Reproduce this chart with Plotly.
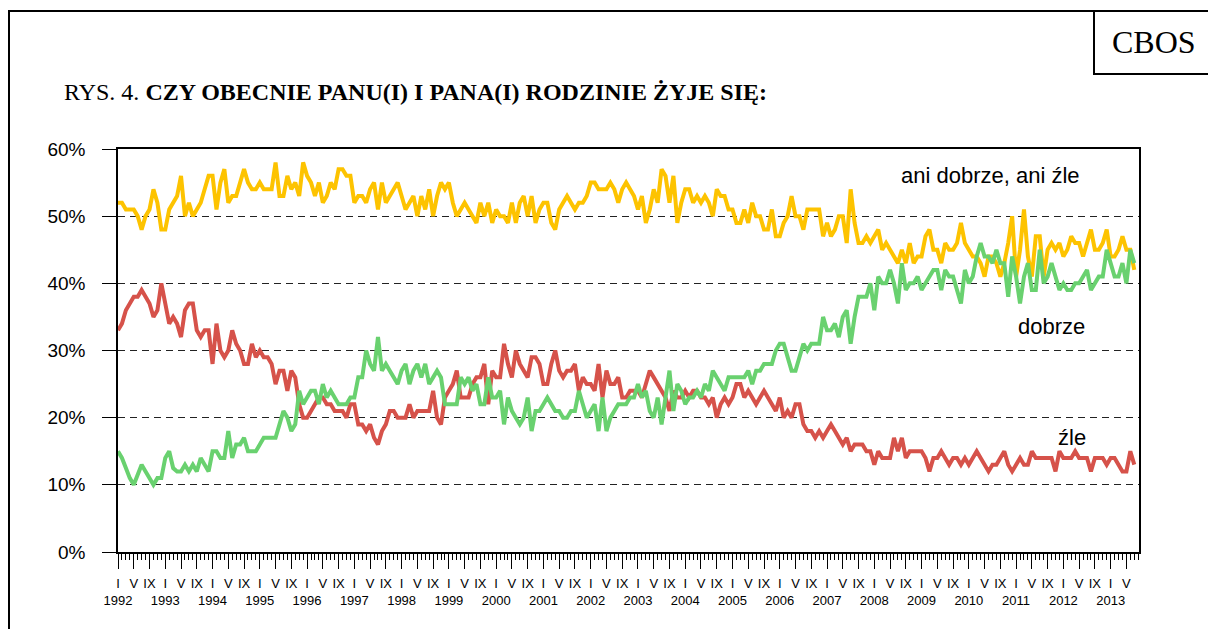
import plotly.graph_objects as go

# ---- data (monthly, Jan 1992 - Jul 2013), values in % ----
years = list(range(1992, 2014))
month_roman = ["I", "V", "IX"]

ani_dobrze_ani_zle = [
    52, 52, 51, 51, 51, 50, 48, 50, 51, 54, 52, 48,   # 1992
    48, 51, 52, 53, 56, 50, 52, 50, 51, 52, 54, 56,   # 1993
    56, 51, 55, 57, 52, 53, 53, 55, 57, 55, 54, 54,   # 1994
    55, 54, 54, 54, 58, 53, 53, 56, 54, 55, 53, 58,   # 1995
    56, 55, 53, 55, 52, 53, 55, 54, 57, 57, 56, 56,   # 1996
    52, 53, 53, 52, 54, 55, 51, 55, 52, 53, 54, 55,   # 1997
    53, 51, 52, 53, 50, 53, 51, 54, 50, 53, 55, 54,   # 1998
    55, 52, 50, 51, 52, 51, 50, 49, 52, 50, 52, 49,   # 1999
    51, 50, 50, 49, 52, 49, 52, 53, 50, 53, 49, 51,   # 2000
    52, 52, 49, 48, 51, 52, 53, 52, 51, 52, 52, 53,   # 2001
    55, 55, 54, 54, 54, 55, 54, 52, 54, 55, 54, 53,   # 2002
    51, 53, 49, 51, 54, 52, 57, 56, 52, 56, 49, 52,   # 2003
    54, 54, 52, 53, 52, 53, 52, 50, 54, 53, 53, 51,   # 2004
    51, 49, 49, 51, 49, 52, 50, 50, 48, 48, 51, 47,   # 2005
    47, 49, 50, 53, 50, 50, 48, 51, 51, 51, 51, 47,   # 2006
    49, 47, 48, 50, 50, 46, 54, 49, 46, 46, 47, 46,   # 2007
    47, 48, 45, 46, 45, 44, 43, 45, 43, 46, 43, 44,   # 2008
    44, 47, 48, 45, 45, 43, 46, 45, 45, 46, 49, 46,   # 2009
    45, 44, 44, 43, 41, 44, 44, 43, 41, 43, 46, 50,   # 2010
    41, 45, 51, 44, 41, 47, 47, 41, 45, 46, 45, 46,   # 2011
    44, 45, 47, 46, 46, 44, 46, 48, 45, 45, 46, 48,   # 2012
    44, 44, 45, 47, 45, 45, 42,                       # 2013
]

dobrze = [
    15, 14, 12.5, 11, 10, 11.5, 13, 12, 11, 10, 11, 11,  # 1992
    14, 15, 12.5, 12, 12, 13, 12, 13, 12, 14, 13, 12,    # 1993
    15, 15, 14, 14, 18, 14, 16, 16, 17, 15, 15, 15,      # 1994
    16, 17, 17, 17, 17, 19, 21, 20, 18, 19, 24, 22,      # 1995
    23, 24, 24, 22, 25, 23, 24, 23, 22, 22, 22, 23,      # 1996
    23, 26, 26, 30, 28, 27, 32, 27, 28, 27, 26, 25,      # 1997
    27, 28, 25, 27, 28, 26, 28, 25, 26, 27, 26, 22,      # 1998
    22, 22, 22, 26, 25, 26, 24, 25, 22, 22, 26, 23,      # 1999
    23, 24, 19, 23, 21, 20, 19, 20, 23, 18, 21, 21,      # 2000
    22, 23, 22, 21, 21, 20, 20, 21, 21, 24, 22, 20,      # 2001
    21, 22, 18, 23, 18, 20, 21, 22, 22, 22, 23, 23,      # 2002
    25, 23, 24, 21, 20, 23, 19, 23, 27, 21, 25, 24,      # 2003
    22, 23, 23, 24, 23, 25, 24, 27, 26, 25, 24, 26,      # 2004
    26, 26, 26, 26, 27, 25, 27, 27, 28, 28, 28, 30,      # 2005
    31, 31, 29, 27, 27, 29, 31, 30, 31, 31, 31, 35,      # 2006
    33, 33, 34, 32, 35, 36, 31, 35, 38, 38, 38, 40,      # 2007
    36, 41, 40, 40, 42, 40, 37, 43, 39, 40, 40, 41,      # 2008
    39, 40, 41, 42, 42, 39, 42, 41, 41, 39, 37, 42,      # 2009
    40, 41, 44, 46, 44, 44, 43, 45, 43, 43, 38, 44,      # 2010
    41, 37, 41, 43, 39, 39, 45, 40, 41, 43, 41, 39,      # 2011
    40, 39, 39, 40, 40, 41, 42, 39, 40, 41, 41, 45,      # 2012
    43, 41, 41, 43, 40, 45, 43,                          # 2013
]

zle = [
    33, 34, 36, 37, 38, 38, 39, 38, 37, 35, 36, 40,   # 1992
    37, 34, 35, 34, 32, 36, 37, 37, 33, 32, 33, 33,   # 1993
    28, 34, 30, 29, 30, 33, 31, 30, 28, 28, 31, 29,   # 1994
    30, 29, 29, 28, 25, 27, 27, 24, 27, 26, 22, 20,   # 1995
    20, 21, 22, 23, 23, 22, 22, 21, 21, 21, 20, 22,   # 1996
    22, 19, 19, 18, 19, 17, 16, 18, 19, 21, 21, 20,   # 1997
    20, 20, 22, 20, 21, 21, 21, 21, 24, 20, 19, 23,   # 1998
    24, 25, 27, 23, 23, 23, 25, 26, 26, 28, 22, 27,   # 1999
    26, 26, 31, 28, 26, 30, 28, 27, 26, 29, 29, 28,   # 2000
    25, 25, 28, 30, 27, 26, 27, 27, 28, 24, 26, 25,   # 2001
    25, 24, 28, 23, 27, 25, 25, 26, 23, 23, 24, 24,   # 2002
    24, 23, 25, 27, 26, 25, 24, 23, 21, 24, 23, 23,   # 2003
    24, 23, 24, 24, 23, 23, 22, 23, 20, 22, 23, 22,   # 2004
    23, 25, 25, 23, 24, 23, 22, 23, 24, 23, 22, 21,   # 2005
    23, 20, 21, 20, 22, 22, 19, 18, 18, 17, 18, 17,   # 2006
    18, 19, 18, 17, 16, 17, 15, 16, 16, 16, 15, 15,   # 2007
    13, 15, 14, 14, 14, 17, 15, 17, 14, 15, 15, 15,   # 2008
    15, 14, 12, 14, 14, 15, 14, 13, 14, 14, 13, 14,   # 2009
    13, 14, 15, 14, 13, 12, 13, 13, 14, 15, 13, 12,   # 2010
    13, 14, 13, 13, 15, 14, 14, 14, 14, 14, 12, 15,   # 2011
    14, 14, 14, 15, 14, 14, 14, 12, 14, 14, 14, 13,   # 2012
    14, 14, 13, 12, 12, 15, 13,                       # 2013
]

y_ticks = [0, 10, 20, 30, 40, 50, 60]

# ---- layout geometry helpers (pixels -> paper) ----
W, H = 1208, 629
ML, MR, MT, MB = 118, 69, 149, 77
PW, PH = W - ML - MR, H - MT - MB


def px(x):
    return (x - ML) / PW


def py(y):
    return (H - MB - y) / PH


months = list(range(len(dobrze)))

# x tick labels: I / V / IX each year, year under I
tickvals, ticktext = [], []
for i, yr in enumerate(years):
    for j, r in enumerate(month_roman):
        m = i * 12 + j * 4
        if m > 258:
            break
        tickvals.append(m)
        ticktext.append(f"{r}<br>{yr}" if j == 0 else r)

SANS = "Liberation Sans, Arial, sans-serif"
SERIF = "Liberation Serif, Times New Roman, serif"

fig = go.Figure()
fig.add_trace(go.Scatter(x=months, y=ani_dobrze_ani_zle, mode="lines",
                         line=dict(color="#FDC300", width=4), name="ani dobrze, ani źle"))
fig.add_trace(go.Scatter(x=months[:len(zle)], y=zle, mode="lines",
                         line=dict(color="#D6524A", width=4), name="źle"))
fig.add_trace(go.Scatter(x=months, y=dobrze, mode="lines",
                         line=dict(color="#69D16F", width=4), name="dobrze"))

fig.update_layout(
    width=W, height=H,
    margin=dict(l=ML, r=MR, t=MT, b=MB, pad=0),
    paper_bgcolor="white", plot_bgcolor="white",
    showlegend=False,
    font=dict(family=SANS, color="black"),
)

fig.update_xaxes(
    range=[0, 259.2], showgrid=False, zeroline=False,
    showline=True, linecolor="black", linewidth=1.5, mirror=True,
    tickmode="array", tickvals=tickvals, ticktext=ticktext, tickangle=0,
    ticks="outside", ticklen=15, tickwidth=1, tickcolor="black",
    tickfont=dict(family=SANS, size=13, color="black"),
    ticklabelstandoff=4,
    minor=dict(dtick=1, tick0=0, ticks="outside", ticklen=6, tickwidth=1, tickcolor="black"),
)
fig.update_yaxes(
    range=[0, 60], zeroline=False,
    showline=True, linecolor="black", linewidth=1.5, mirror=True,
    tickmode="array", tickvals=y_ticks, ticktext=[f"{v}%" for v in y_ticks],
    ticks="outside", ticklen=14, tickwidth=1, tickcolor="black",
    tickfont=dict(family=SANS, size=19, color="black"),
    ticklabelstandoff=13,
    showgrid=True, gridcolor="#222222", gridwidth=1, griddash="7px,5px",
)

# series labels
fig.add_annotation(x=221.4, y=56.1, text="ani dobrze, ani źle", showarrow=False,
                   font=dict(family=SANS, size=22, color="black"))
fig.add_annotation(x=237.1, y=33.6, text="dobrze", showarrow=False,
                   font=dict(family=SANS, size=22, color="black"))
fig.add_annotation(x=242.2, y=17.1, text="źle", showarrow=False,
                   font=dict(family=SANS, size=22, color="black"))

# title
fig.add_annotation(xref="paper", yref="paper", x=px(62), y=py(92), xanchor="left", yanchor="middle",
                   text="RYS. 4. <b>CZY OBECNIE PANU(I) I PANA(I) RODZINIE ŻYJE SIĘ:</b>",
                   showarrow=False, font=dict(family=SERIF, size=24, color="black"))
# CBOS label
fig.add_annotation(xref="paper", yref="paper", x=px(1154), y=py(42), xanchor="center", yanchor="middle",
                   text="CBOS", showarrow=False, font=dict(family=SERIF, size=32, color="black"))

# outer frame and CBOS box
fig.add_shape(type="rect", xref="paper", yref="paper",
              x0=px(9), x1=px(1215), y0=py(640), y1=py(11),
              line=dict(color="black", width=2), fillcolor="rgba(0,0,0,0)", layer="above")
fig.add_shape(type="rect", xref="paper", yref="paper",
              x0=px(1094), x1=px(1215), y0=py(74), y1=py(11),
              line=dict(color="black", width=2), fillcolor="rgba(0,0,0,0)", layer="above")

fig.write_html("out.html", config={"displayModeBar": False},
               post_script="document.body.style.margin='0';document.body.style.overflow='hidden';")
